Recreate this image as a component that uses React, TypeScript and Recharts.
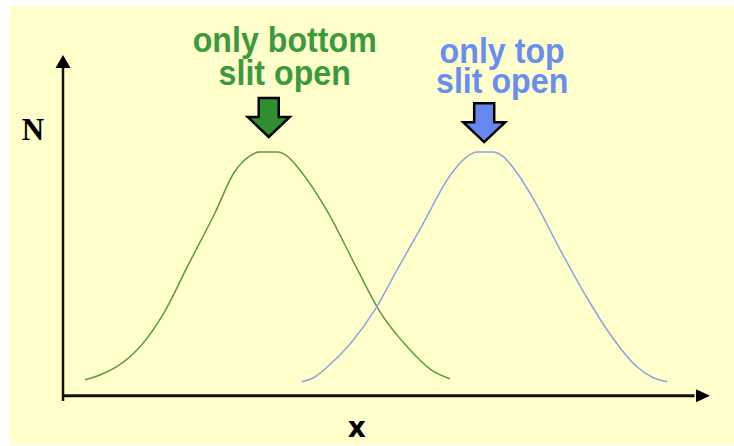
import React from "react";
import { LineChart, Line, XAxis, YAxis, ReferenceLine, ReferenceDot } from "recharts";

// Detector position (arbitrary units, 0..100) and counts N (arbitrary units, 0..100)
const greenX = [3.4, 5.7, 8.3, 11.9, 15.6, 19.2, 23.5, 26.4, 28.9, 30.3, 33.2, 34.6, 36.6, 41.0, 45.3, 48.8, 53.2, 56.9, 59.8];
const greenN = [4.7, 6.1, 8.5, 14.3, 24.2, 37.6, 53.4, 65.0, 70.0, 71.1, 71.1, 70.0, 65.9, 53.4, 37.6, 25.1, 14.3, 7.6, 5.0];
const blueX = [36.9, 38.9, 40.9, 44.4, 48.2, 51.8, 55.3, 60.1, 62.6, 64.0, 66.5, 67.9, 70.3, 72.8, 77.1, 80.8, 84.4, 88.7, 91.0, 93.4];
const blueN = [4.1, 5.5, 8.5, 15.2, 25.1, 37.3, 49.0, 65.0, 70.0, 71.1, 71.1, 70.0, 64.7, 57.1, 41.7, 29.2, 18.4, 8.5, 5.5, 4.1];

const greenLabel = ["only bottom", "slit open"];
const blueLabel = ["only top", "slit open"];
const yLabel = "N";
const xLabel = "x";

// annotation anchors (arrow tips) in data units
const greenArrow = { x: 31.8, y: 75.5 };
const blueArrow = { x: 65.1, y: 74.0 };

const greenData = greenX.map((x, i) => ({ x, y: greenN[i] }));
const blueData = blueX.map((x, i) => ({ x, y: blueN[i] }));

const GREEN_LINE = "#5a9a43";
const BLUE_LINE = "#8ea3e6";
const GREEN_TEXT = "#3c9a3c";
const BLUE_TEXT = "#6a8ef0";
const SANS = "'Liberation Sans', Arial, sans-serif";

const blockArrow = (fill: string, label: string[], dx: number, b1: number, b2: number, color: string) => (props: any) => {
  const { cx, cy } = props;
  if (cx == null || cy == null) return <g />;
  const d = `M${cx - 10},${cy - 39} L${cx + 10},${cy - 39} L${cx + 10},${cy - 20} L${cx + 21},${cy - 20} L${cx},${cy} L${cx - 21},${cy - 20} L${cx - 10},${cy - 20} Z`;
  const tx = cx + dx;
  return (
    <g>
      <path d={d} fill={fill} stroke="#000" strokeWidth={2.5} strokeLinejoin="miter" />
      <g transform={`translate(${tx},0) scale(0.92,1) translate(${-tx},0)`}>
        <text textAnchor="middle" fill={color} fontFamily={SANS} fontWeight="bold" fontSize={35}>
          <tspan x={tx} y={cy + b1}>{label[0]}</tspan>
          <tspan x={tx} y={cy + b2}>{label[1]}</tspan>
        </text>
      </g>
    </g>
  );
};

const xHead = (props: any) => {
  const { cx, cy } = props;
  if (cx == null) return <g />;
  return <path d={`M${cx},${cy} L${cx - 14},${cy - 6.5} L${cx - 14},${cy + 6.5} Z`} fill="#000" />;
};

const yHead = (props: any) => {
  const { cx, cy } = props;
  if (cx == null) return <g />;
  return (
    <g>
      <path d={`M${cx},${cy} L${cx - 7.5},${cy + 13} L${cx + 7.5},${cy + 13} Z`} fill="#000" />
      <text x={cx - 30} y={cy + 85} textAnchor="middle" fill="#000" fontFamily="'Liberation Serif', 'Times New Roman', serif" fontWeight="bold" fontSize={31}>
        {yLabel}
      </text>
    </g>
  );
};

const xText = (props: any) => {
  const { cx, cy } = props;
  if (cx == null) return <g />;
  return (
    <text x={cx} y={cy + 41} textAnchor="middle" fill="#000" fontFamily="'DejaVu Sans', sans-serif" fontWeight="bold" fontSize={28}>
      {xLabel}
    </text>
  );
};

export default function App() {
  return (
    <div style={{ position: "absolute", left: 0, top: 0, width: 734, height: 446, background: "#ffffff" }}>
      <div style={{ position: "absolute", left: 10, top: 6, width: 724, height: 439, background: "#ffffcc" }} />
      <div style={{ position: "absolute", left: 0, top: 0 }}>
        <LineChart width={734} height={446} margin={{ top: 53, right: 24, bottom: 45, left: 63 }}>
          <XAxis type="number" dataKey="x" domain={[0, 100]} allowDataOverflow hide />
          <YAxis type="number" domain={[-1.5, 100]} allowDataOverflow hide />
          <ReferenceLine segment={[{ x: 0, y: 0 }, { x: 97.6, y: 0 }]} stroke="#111" strokeWidth={3} ifOverflow="visible" />
          <ReferenceLine segment={[{ x: 0, y: -1.5 }, { x: 0, y: 96 }]} stroke="#111" strokeWidth={2.5} ifOverflow="visible" />
          <ReferenceDot x={100} y={0} r={1} shape={xHead} ifOverflow="visible" />
          <ReferenceDot x={0} y={99.4} r={1} shape={yHead} ifOverflow="visible" />
          <ReferenceDot x={45.4} y={0} r={1} shape={xText} ifOverflow="visible" />
          <Line data={greenData} dataKey="y" type="monotone" stroke={GREEN_LINE} strokeWidth={1.5} dot={false} isAnimationActive={false} />
          <Line data={blueData} dataKey="y" type="monotone" stroke={BLUE_LINE} strokeWidth={1.5} dot={false} isAnimationActive={false} />
          <ReferenceDot x={greenArrow.x} y={greenArrow.y} r={1} ifOverflow="visible" shape={blockArrow("#2f8f2f", greenLabel, 16, -85, -52, GREEN_TEXT)} />
          <ReferenceDot x={blueArrow.x} y={blueArrow.y} r={1} ifOverflow="visible" shape={blockArrow("#6688ee", blueLabel, 18, -79, -49, BLUE_TEXT)} />
        </LineChart>
      </div>
    </div>
  );
}
